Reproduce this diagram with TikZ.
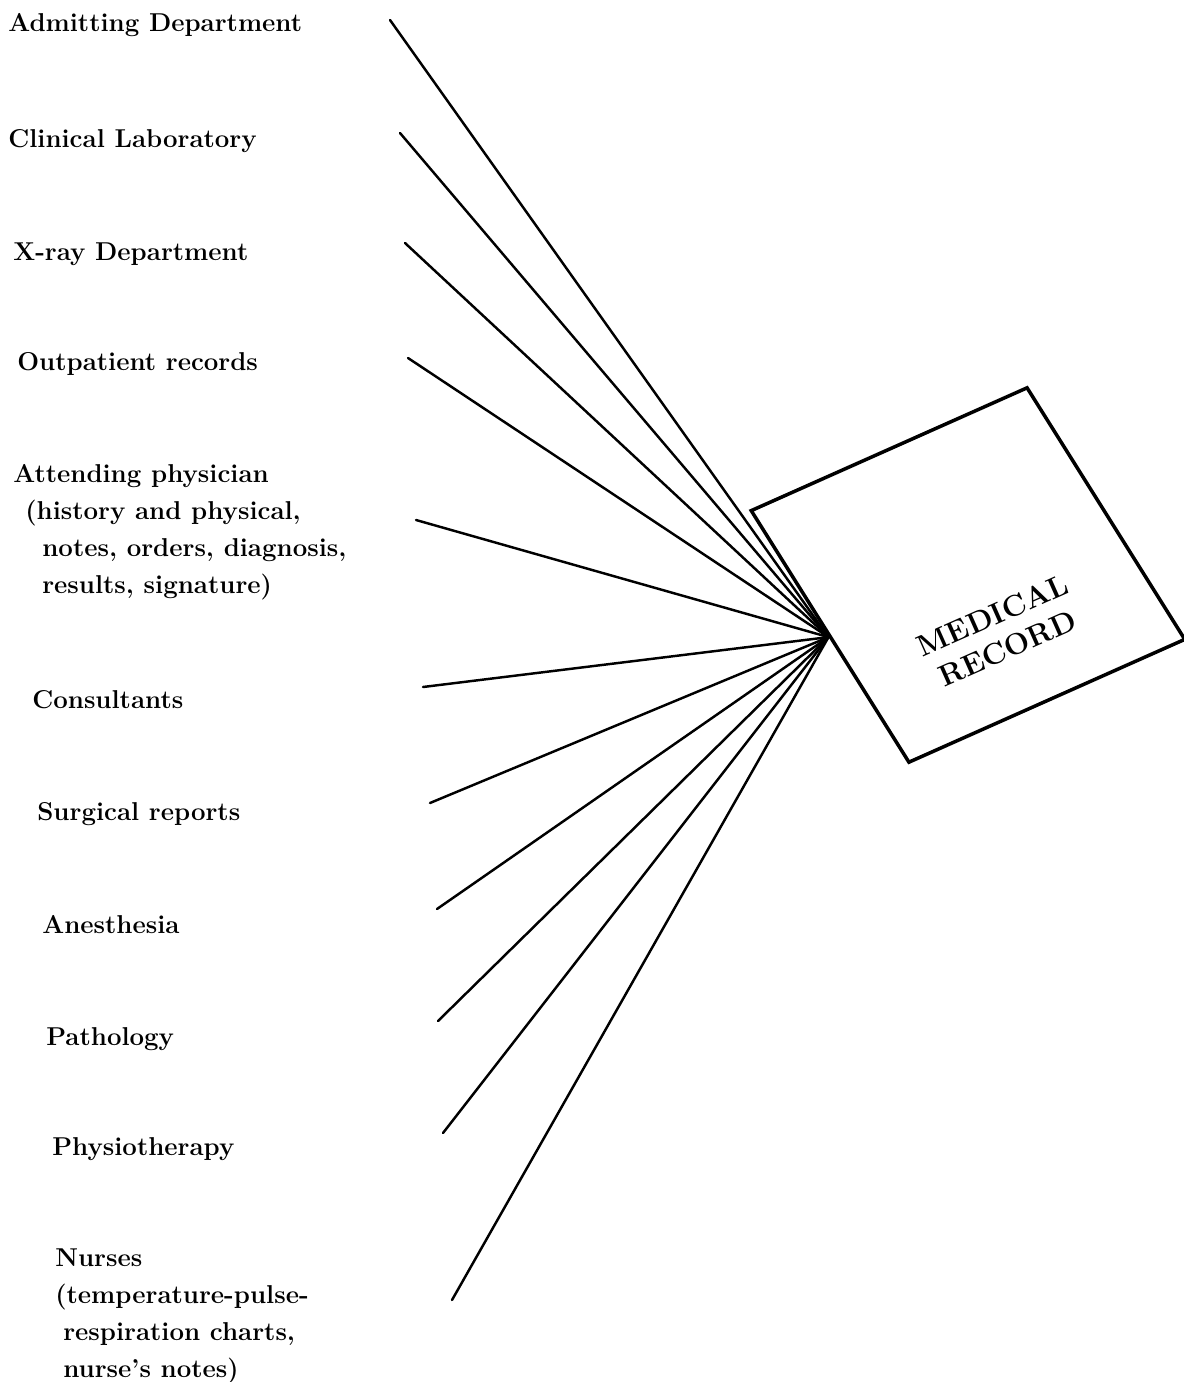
\documentclass[tikz,border=0pt]{standalone}
\usepackage{amsmath}
\usetikzlibrary{shapes,positioning,calc}
\tikzstyle{source} = [anchor=base west,inner sep=0pt,align=left,font=\fontsize{14.7}{21}\selectfont\bfseries]
\tikzstyle{feed} = [line width=1.4pt,line cap=round]
\tikzstyle{recordbox} = [draw,line width=2pt,rotate=24,xslant=-0.142,minimum width=6.04cm,minimum height=5.88cm]

\begin{document}
\begin{tikzpicture}[x=0.02cm,y=-0.02cm]
						\useasboundingbox (0,0) rectangle (1183,1382);
						\node[recordbox] (record) at (968,575) {};
						\node[rotate=24,align=center,font=\fontsize{17}{20.5}\selectfont\bfseries] (recordtext) at (1000,632) {MEDICAL\\RECORD};
						\node[source] (admitting) at (8,32) {Admitting Department};
						\node[source] (clinical) at (8,148) {Clinical Laboratory};
						\node[source] (xray) at (13,260) {X-ray Department};
						\node[source] (outpatient) at (17,370) {Outpatient records};
						\node[source] (attending) at (13,593) {Attending physician\\
							\hspace*{0.24cm}(history and physical,\\
							\hspace*{0.58cm}notes, orders, diagnosis,\\
							\hspace*{0.58cm}results, signature)};
						\node[source] (consultants) at (32,708) {Consultants};
						\node[source] (surgical) at (37,820) {Surgical reports};
						\node[source] (anesthesia) at (42,933) {Anesthesia};
						\node[source] (pathology) at (46,1045) {Pathology};
						\node[source] (physio) at (52,1155) {Physiotherapy};
						\node[source] (nurses) at (55,1377) {Nurses\\
							(temperature-pulse-\\
							\hspace*{0.16cm}respiration charts,\\
							\hspace*{0.16cm}nurse's notes)};
						\coordinate (s1) at (390,20);
						\coordinate (s2) at (400,133);
						\coordinate (s3) at (405,243);
						\coordinate (s4) at (408,358);
						\coordinate (s5) at (416,520);
						\coordinate (s6) at (423,687);
						\coordinate (s7) at (430,803);
						\coordinate (s8) at (437,909);
						\coordinate (s9) at (438,1021);
						\coordinate (s10) at (443,1133);
						\coordinate (s11) at (452,1300);
						\foreach \i in {1,...,11}
							\draw[feed] (s\i) -- (record.west);
					\end{tikzpicture}
\end{document}
